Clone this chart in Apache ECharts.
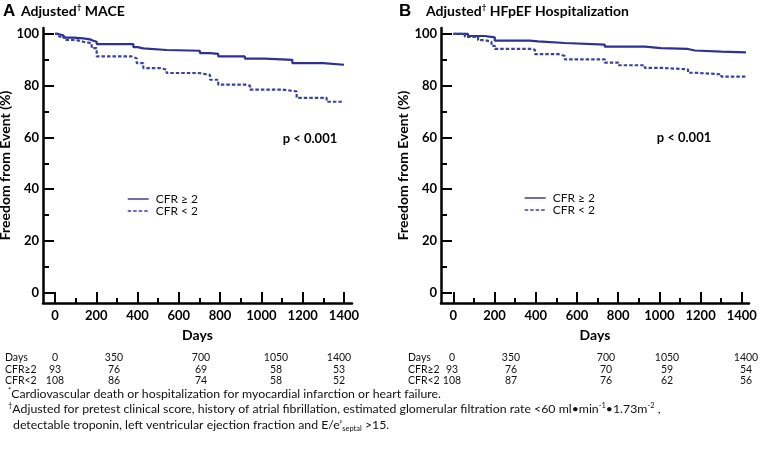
<!DOCTYPE html>
<html><head><meta charset="utf-8">
<script src="https://cdn.jsdelivr.net/npm/echarts@6/dist/echarts.min.js"></script>
<style>html,body{margin:0;padding:0;background:#fff}#c{width:760px;height:457px}</style>
</head><body><div id="c"></div>
<script>
// ---------- data ----------
const seriesNames = ['CFR ≥ 2', 'CFR < 2'];
const xMajorTicks = [0, 200, 400, 600, 800, 1000, 1200, 1400];
const xMinorTicks = [100, 300, 500, 700, 900, 1100, 1300];
const yMajorTicks = [0, 20, 40, 60, 80, 100];
const yMinorTicks = [10, 30, 50, 70, 90];

// Panel A: Adjusted MACE (days, % event-free)
const maceHigh = [[0,100],[15,99.5],[40,98.6],[90,98.3],[137,97.9],[170,97.4],[186,97.0],[202,96.1],[380,94.9],[400,94.4],[428,93.8],[541,93.5],[702,92.6],[751,92.3],[791,91.3],[920,90.5],[1017,90.0],[1150,88.7],[1300,88.1],[1400,88.1]];
const maceLow = [[0,100],[20,99.0],[48,97.7],[100,97.0],[137,96.4],[178,94.5],[202,91.3],[371,90.6],[396,88.7],[428,86.8],[509,86.2],[541,84.9],[695,84.2],[751,82.3],[791,80.4],[920,80.0],[945,78.5],[1100,77.8],[1171,75.3],[1316,73.8],[1400,73.8]];
// Panel B: Adjusted HFpEF hospitalization
const hfHigh = [[0,100],[71,99.2],[152,98.7],[201,97.4],[371,97.1],[411,96.5],[541,95.9],[735,95.1],[929,94.5],[1008,94.2],[1139,93.6],[1172,93.2],[1301,92.9],[1420,92.9]];
const hfLow = [[0,100],[56,98.9],[120,97.6],[152,97.0],[185,95.4],[201,94.2],[379,93.9],[396,92.2],[509,91.5],[541,90.2],[735,88.9],[800,87.9],[929,86.9],[1010,86.3],[1139,85.0],[1172,84.4],[1301,83.5],[1420,83.5]];

// Number at risk
const riskRowLabels = ['Days', 'CFR≥2', 'CFR<2'];
const riskDays = [0, 350, 700, 1050, 1400];
const riskMaceHigh = [93, 76, 69, 58, 53];
const riskMaceLow = [108, 86, 74, 58, 52];
const riskHfHigh = [93, 76, 70, 59, 54];
const riskHfLow = [108, 87, 76, 62, 56];

const panelTitles = ['Adjusted', 'Adjusted'];
const panelTitleTails = [' MACE', ' HFpEF Hospitalization'];
const panelLetters = ['A', 'B'];
const pText = 'p < 0.001';

// ---------- styles ----------
const FONT = 'Lato, "Open Sans", sans-serif';
const navySolid = '#2e3192';
const navyDash = '#3a42a0';

const panels = [
  {grid: {left: 43, top: 28, width: 309, height: 275}, xMin: -58, xMax: 1439},
  {grid: {left: 441, top: 28, width: 308, height: 275}, xMin: -60, xMax: 1435}
];
const yMin = -4, yMax = 102.3;

const grids = [], xAxes = [], yAxes = [];
panels.forEach((p) => { grids.push(Object.assign({outerBoundsMode: 'none', containLabel: false}, p.grid)); });
panels.forEach((p) => { grids.push(Object.assign({outerBoundsMode: 'none', containLabel: false}, p.grid)); });
const plain = (v) => String(v);
// main axes (grid 0,1)
panels.forEach((p, i) => {
  xAxes.push({
    type: 'value', gridIndex: i, min: p.xMin, max: p.xMax,
    axisLine: {show: true, onZero: false, lineStyle: {color: '#000', width: 2.5}},
    axisTick: {show: true, inside: true, length: 11, customValues: xMajorTicks, lineStyle: {color: '#000', width: 2}},
    axisLabel: {show: true, customValues: xMajorTicks, formatter: plain, margin: 6, color: '#000', fontWeight: 'bold', fontSize: 13, fontFamily: FONT},
    splitLine: {show: false},
    name: 'Days', nameLocation: 'middle', nameGap: 25,
    nameTextStyle: {color: '#000', fontWeight: 'bold', fontSize: 14, fontFamily: FONT}
  });
  yAxes.push({
    type: 'value', gridIndex: i, min: yMin, max: yMax,
    axisLine: {show: true, onZero: false, lineStyle: {color: '#000', width: 2.5}},
    axisTick: {show: true, inside: true, length: 11, customValues: yMajorTicks, lineStyle: {color: '#000', width: 2}},
    axisLabel: {show: true, customValues: yMajorTicks, formatter: plain, margin: 4, color: '#000', fontWeight: 'bold', fontSize: 13, fontFamily: FONT},
    splitLine: {show: false},
    name: 'Freedom from Event (%)', nameLocation: 'middle', nameGap: 27,
    nameTextStyle: {color: '#000', fontWeight: 'bold', fontSize: 14, fontFamily: FONT}
  });
});
// minor tick axes (grid 2,3)
panels.forEach((p, i) => {
  xAxes.push({
    type: 'value', gridIndex: 2 + i, min: p.xMin, max: p.xMax,
    axisLine: {show: false, onZero: false},
    axisTick: {show: true, inside: true, length: 5, customValues: xMinorTicks, lineStyle: {color: '#000', width: 2}},
    axisLabel: {show: false}, splitLine: {show: false}
  });
  yAxes.push({
    type: 'value', gridIndex: 2 + i, min: yMin, max: yMax,
    axisLine: {show: false, onZero: false},
    axisTick: {show: true, inside: true, length: 6, customValues: yMinorTicks, lineStyle: {color: '#000', width: 2}},
    axisLabel: {show: false}, splitLine: {show: false}
  });
});

function lineSeries(name, data, idx, dashed) {
  return {
    type: 'line', name: name, data: data, xAxisIndex: idx, yAxisIndex: idx,
    step: 'end', showSymbol: false, symbol: 'none', silent: true, animation: false,
    lineStyle: {color: dashed ? navyDash : navySolid, width: 2.2, type: dashed ? [3.5, 2] : 'solid'},
    itemStyle: {color: dashed ? navyDash : navySolid}
  };
}
const series = [
  lineSeries(seriesNames[0], maceHigh, 0, false),
  lineSeries(seriesNames[1], maceLow, 0, true),
  lineSeries(seriesNames[0], hfHigh, 1, false),
  lineSeries(seriesNames[1], hfLow, 1, true)
];

function legendAt(left, top) {
  return {
    show: true, orient: 'vertical', left: left, top: top, padding: 0, itemGap: 0,
    itemWidth: 21, itemHeight: 14, data: seriesNames, selectedMode: false,
    itemStyle: {opacity: 0, borderWidth: 0},
    lineStyle: {width: 1.4},
    textStyle: {color: '#111', fontSize: 12, fontFamily: FONT, padding: [0, 0, 0, 2]}
  };
}

// ---------- graphics (titles, p-values, at-risk table, footnotes) ----------
const graphic = [];
const titleLetterX = [3, 399];
const titleTextX = [21, 426];
panels.forEach((p, i) => {
  graphic.push({type: 'text', x: titleLetterX[i], y: 11, style: {text: panelLetters[i], font: 'bold 17px "Liberation Sans", Arial, sans-serif', fill: '#000', verticalAlign: 'middle'}});
  graphic.push({type: 'text', x: titleTextX[i], y: 11, style: {
    text: '{t|' + panelTitles[i] + '}{s|†}{t|' + panelTitleTails[i] + '}',
    verticalAlign: 'middle',
    rich: {
      t: {font: 'bold 14px ' + FONT, fill: '#000', lineHeight: 16},
      s: {font: 'bold 8px ' + FONT, fill: '#000', lineHeight: 9, verticalAlign: 'top'}
    }
  }});
});
const pX = [310, 684], pY = [139, 138];
panels.forEach((p, i) => {
  graphic.push({type: 'text', x: pX[i], y: pY[i], style: {text: pText, font: 'bold 13px ' + FONT, fill: '#000', align: 'center', verticalAlign: 'middle'}});
});

const riskLabelX = [5, 408];
const riskColX = [[55, 114, 201, 276, 339], [452, 511, 606, 667, 746]];
const riskRowY = [358, 369.5, 381];
const riskRows = [[riskDays, riskMaceHigh, riskMaceLow], [riskDays, riskHfHigh, riskHfLow]];
const tFont = '10.5px ' + FONT;
riskRows.forEach((rows, pi) => {
  rows.forEach((vals, ri) => {
    graphic.push({type: 'text', x: riskLabelX[pi], y: riskRowY[ri], style: {text: riskRowLabels[ri], font: tFont, fill: '#111', align: 'left', verticalAlign: 'middle'}});
    vals.forEach((v, ci) => {
      graphic.push({type: 'text', x: riskColX[pi][ci], y: riskRowY[ri], style: {text: String(v), font: tFont, fill: '#111', align: 'center', verticalAlign: 'middle'}});
    });
  });
});

const fnRich = {
  n: {font: '12.3px ' + FONT, fill: '#111', lineHeight: 15},
  sup: {font: '7.5px ' + FONT, fill: '#111', lineHeight: 8, verticalAlign: 'top'},
  sub: {font: '7.5px ' + FONT, fill: '#111', lineHeight: 8, verticalAlign: 'bottom'}
};
const footnotes = [
  {x: 8, text: '{sup|*}{n|Cardiovascular death or hospitalization for myocardial infarction or heart failure.}'},
  {x: 8, text: '{sup|†}{n|Adjusted for pretest clinical score, history of atrial fibrillation, estimated glomerular filtration rate <60 ml•min}{sup|-1}{n|•1.73m}{sup|-2}{n| ,}'},
  {x: 13, text: '{n|detectable troponin, left ventricular ejection fraction and E/e’}{sub|septal}{n| >15.}'}
];
const fnY = [394, 409, 425];
footnotes.forEach((f, i) => {
  graphic.push({type: 'text', x: f.x, y: fnY[i], style: {text: f.text, verticalAlign: 'middle', rich: fnRich}});
});

const chart = echarts.init(document.getElementById('c'), null, {renderer: 'canvas'});
chart.setOption({
  backgroundColor: '#fff',
  animation: false,
  textStyle: {fontFamily: FONT},
  grid: grids,
  xAxis: xAxes,
  yAxis: yAxes,
  legend: [legendAt(127, 193), legendAt(524, 192)],
  series: series,
  graphic: graphic
});
</script>
</body></html>
